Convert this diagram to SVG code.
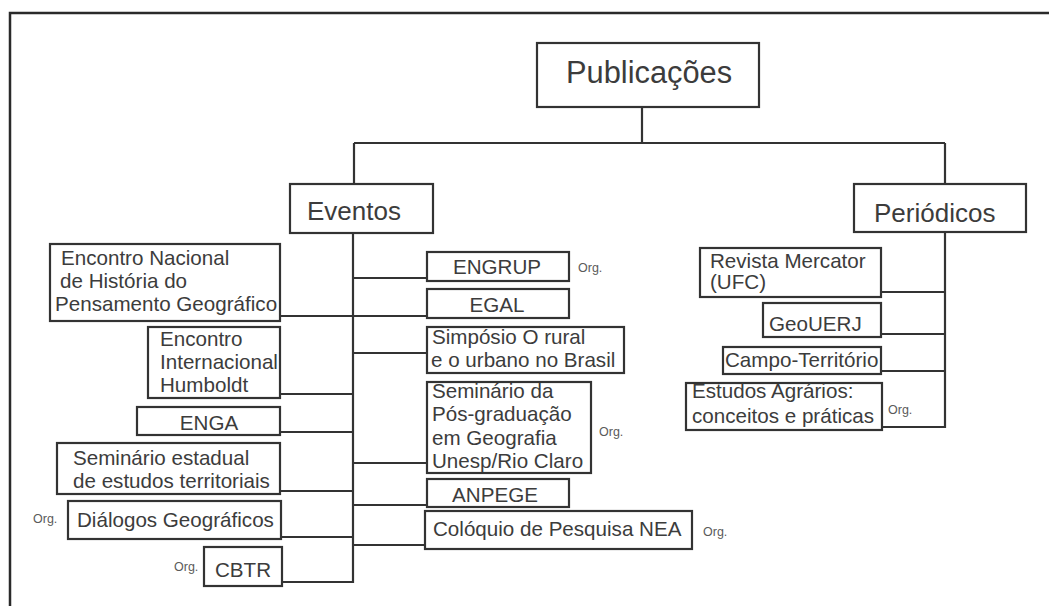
<svg xmlns="http://www.w3.org/2000/svg" width="1049" height="606" viewBox="0 0 1049 606">
<style>
.frame{fill:none;stroke:#2a2a2a;stroke-width:2.5}
.box rect{fill:#fff;stroke:#333;stroke-width:2.2}
.box text,.lbl{font-family:"Liberation Sans",Arial,sans-serif;fill:#3c3c3c}
.t{font-size:20.6px}
.c{text-anchor:middle}
.org{font-family:"Liberation Sans",Arial,sans-serif;font-size:12.5px;fill:#5a5a5a}
#connectors path{fill:none;stroke:#333;stroke-width:2.2}
</style>
<rect width="1049" height="606" fill="#fff"/>
<path class="frame" d="M10,606 V13 H1049"/>
<g id="connectors">
<path d="M642,107 V143 M354,143 H945 M354,143 V184 M945,143 V184"/>
<path d="M353,233 V583"/>
<path d="M280,316 H427 M280,394 H353 M280,432 H353 M280,491 H353 M281,537 H353 M282,582 H353"/>
<path d="M353,278 H427 M353,353 H427 M353,463 H427 M353,505 H427 M353,545 H425"/>
<path d="M945,232 V428 M881,292 H945 M881,334 H945 M881,371 H945 M882,427 H945"/>
</g>
<g id="publicacoes" class="box"><rect x="537" y="43" width="222" height="64"/><text x="566" y="83" style="font-size:30.8px">Publicações</text></g>
<g id="eventos" class="box"><rect x="290" y="184" width="143" height="49"/><text x="307" y="220" style="font-size:26px">Eventos</text></g>
<g id="periodicos" class="box"><rect x="854" y="184" width="172" height="48"/><text x="874" y="222" style="font-size:26px">Periódicos</text></g>
<g id="enhpg" class="box"><rect x="50" y="244" width="230" height="77"/><text class="t" x="61" y="265">Encontro Nacional</text><text class="t" x="60" y="288">de História do</text><text class="t" x="55" y="311">Pensamento Geográfico</text></g>
<g id="eih" class="box"><rect x="148" y="327" width="132" height="71"/><text class="t" x="160" y="346">Encontro</text><text class="t" x="160" y="369">Internacional</text><text class="t" x="160" y="392">Humboldt</text></g>
<g id="enga" class="box"><rect x="137" y="407" width="143" height="28"/><text class="t c" x="209" y="430">ENGA</text></g>
<g id="seminario-estadual" class="box"><rect x="57" y="443" width="223" height="51"/><text class="t" x="73" y="465">Seminário estadual</text><text class="t" x="73" y="488">de estudos territoriais</text></g>
<g id="dialogos" class="box"><rect x="68" y="501" width="213" height="38"/><text class="t" x="77" y="527">Diálogos Geográficos</text></g>
<text class="org" x="33" y="523">Org.</text>
<g id="cbtr" class="box"><rect x="204" y="547" width="78" height="39"/><text class="t" x="215" y="577">CBTR</text></g>
<text class="org" x="174" y="571">Org.</text>
<g id="engrup" class="box"><rect x="427" y="252" width="142" height="29"/><text class="t c" x="497" y="274">ENGRUP</text></g>
<text class="org" x="578" y="272">Org.</text>
<g id="egal" class="box"><rect x="427" y="289" width="142" height="29"/><text class="t c" x="497" y="312">EGAL</text></g>
<g id="simposio" class="box"><rect x="427" y="327" width="197" height="46"/><text class="t" x="432" y="344">Simpósio O rural</text><text class="t" x="431" y="367">e o urbano no Brasil</text></g>
<g id="seminario-pos" class="box"><rect x="427" y="382" width="164" height="91"/><text class="t" x="432" y="398">Seminário da</text><text class="t" x="432" y="421">Pós-graduação</text><text class="t" x="432" y="445">em Geografia</text><text class="t" x="432" y="468">Unesp/Rio Claro</text></g>
<text class="org" x="599" y="436">Org.</text>
<g id="anpege" class="box"><rect x="427" y="479" width="142" height="28"/><text class="t c" x="495" y="502">ANPEGE</text></g>
<g id="coloquio" class="box"><rect x="425" y="511" width="267" height="38"/><text class="t" x="433" y="536">Colóquio de Pesquisa NEA</text></g>
<text class="org" x="703" y="536">Org.</text>
<g id="mercator" class="box"><rect x="700" y="248" width="181" height="49"/><text class="t" x="710" y="268">Revista Mercator</text><text class="t" x="710" y="289">(UFC)</text></g>
<g id="geouerj" class="box"><rect x="763" y="303" width="118" height="34"/><text class="t" x="769" y="331">GeoUERJ</text></g>
<g id="campo" class="box"><rect x="723" y="347" width="158" height="27"/><text class="t" x="725" y="367">Campo-Território</text></g>
<g id="estudos" class="box"><rect x="686" y="383" width="196" height="47"/><text class="t" x="692" y="398">Estudos Agrários:</text><text class="t" x="692" y="423">conceitos e práticas</text></g>
<text class="org" x="888" y="414">Org.</text>
</svg>
